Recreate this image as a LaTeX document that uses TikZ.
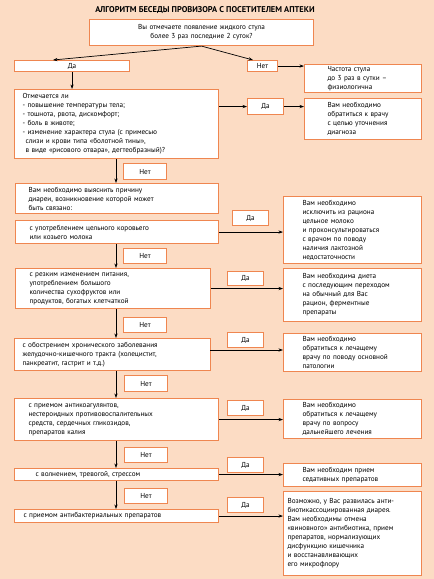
\documentclass[tikz,border=0pt]{standalone}
\usepackage{fontspec}
\setmainfont{PT Sans}
\usetikzlibrary{arrows.meta,calc}
\definecolor{bgc}{HTML}{FCDCC4}
\definecolor{boxc}{HTML}{EF8650}
\newcommand\bodyfnt{\fontsize{7.2}{9}\selectfont}
\newcommand\titlefnt{\fontsize{8.4}{10}\selectfont\bfseries}
\tikzset{
  box/.style={draw=boxc, fill=white, line width=1.1pt, anchor=north west,
    inner xsep=0pt, inner ysep=0pt, font=\bodyfnt},
  bx/.style n args={3}{box, align=left, minimum width=#1pt, minimum height=#2pt,
    text width=#1pt, execute at begin node={\leftskip=#3pt\relax}},
  lbl/.style n args={2}{box, align=center, minimum width=#1pt, minimum height=#2pt},
  arr/.style={-{Stealth[length=4.5pt,width=3.2pt]}, line width=0.7pt, black},
}
\begin{document}
\begin{tikzpicture}[x=1pt,y=-1pt]
\fill[bgc] (0,0) rectangle (434,579);
\useasboundingbox (0,0) rectangle (434,579);
\node[font=\titlefnt] (title) at (205,10) {АЛГОРИТМ БЕСЕДЫ ПРОВИЗОРА С ПОСЕТИТЕЛЕМ АПТЕКИ};
\node[box, align=center, minimum width=224pt, minimum height=26pt, text width=224pt] (q1) at (89,19)
  {Вы отмечаете появление жидкого стула\\более 3 раз последние 2 суток?};
\node[lbl={115}{11}] (da1) at (14,60) {Да};
\node[lbl={30}{11}] (net1) at (247,60) {Нет};
\node[bx={117}{28}{23}] (res1) at (304,64) {Частота стула\\до 3 раз в сутки –\\физиологична};
\node[bx={204}{69}{8}] (b2) at (14,89) {Отмечается ли\\- повышение температуры тела;\\- тошнота, рвота, дискомфорт;\\- боль в животе;\\- изменение характера стула (с примесью\\\hspace*{3pt}слизи и крови типа «болотной тины»,\\\hspace*{3pt}в виде «рисового отвара», дегтеобразный)?};
\node[lbl={36}{16}] (da2) at (247,98) {Да};
\node[bx={117}{41}{23}] (res2) at (304,98) {Вам необходимо\\обратиться к врачу\\с целью уточнения\\диагноза};
\node[lbl={43}{16}] (net2) at (123,163) {Нет};
\node[bx={203}{30}{13}] (b3) at (15,183) {Вам необходимо выяснить причину\\диареи, возникновение которой может\\быть связано:};
\node[bx={203}{23}{14}] (b4) at (15,220) {с употреблением цельного коровьего\\или козьего молока};
\node[lbl={36}{15}] (da3) at (232,210) {Да};
\node[bx={138}{67}{19}] (res3) at (283,196) {Вам необходимо\\исключить из рациона\\цельное молоко\\и проконсультироваться\\с врачом по поводу\\наличия лактозной\\недостаточности};
\node[lbl={43}{15}] (net3) at (123,248) {Нет};
\node[bx={195}{40}{14}] (b5) at (15,268) {с резким изменением питания,\\употреблением большого\\количества сухофруктов или\\продуктов, богатых клетчаткой};
\node[lbl={36}{14}] (da4) at (227,271) {Да};
\node[bx={138}{53}{19}] (res4) at (283,268) {Вам необходима диета\\с последующим переходом\\на обычный для Вас\\рацион, ферментные\\препараты};
\node[lbl={43}{15}] (net4) at (123,317) {Нет};
\node[bx={196}{32}{8}] (b6) at (14,338) {с обострением хронического заболевания\\желудочно-кишечного тракта (холецистит,\\панкреатит, гастрит и т.д.)};
\node[lbl={36}{15}] (da5) at (227,332) {Да};
\node[bx={138}{38}{19}] (res5) at (283,333) {Вам необходимо\\обратиться к лечащему\\врачу по поводу основной\\патологии};
\node[lbl={43}{16}] (net5) at (124,375) {Нет};
\node[bx={204}{42}{14}] (b7) at (14,398) {с приемом антикоагулянтов,\\нестероидных противовоспалительных\\средств, сердечных гликозидов,\\препаратов калия};
\node[lbl={36}{15}] (da6) at (227,400) {Да};
\node[bx={138}{39}{19}] (res6) at (283,399) {Вам необходимо\\обратиться к лечащему\\врачу по вопросу\\дальнейшего лечения};
\node[lbl={43}{15}] (net6) at (124,447) {Нет};
\node[bx={204}{12}{21}] (b8) at (14,468) {с волнением, тревогой, стрессом};
\node[lbl={36}{15}] (da7) at (227,457) {Да};
\node[bx={138}{23}{19}] (res7) at (283,463) {Вам необходим прием\\седативных препаратов};
\node[lbl={43}{15}] (net7) at (124,488) {Нет};
\node[bx={204}{13}{9}] (b9) at (14,509) {с приемом антибактериальных препаратов};
\node[lbl={36}{15}] (da8) at (227,497) {Да};
\node[bx={138}{84}{4}] (res8) at (283,491) {Возможно, у Вас развилась анти-\\биотикассоциированная диарея.\\Вам необходимы отмена\\«виновного» антибиотика, прием\\препаратов, нормализующих\\дисфункцию кишечника\\и восстанавливающих\\его микрофлору};
% connectors
\coordinate (t1) at (53,60);
\coordinate (t2) at (253,60);
\coordinate (vx) at (116,0);
\coordinate (b6e) at (210,350);
\draw[arr] (q1.south) -- (t1);
\draw[arr] (q1.south) -- (t2);
\draw[arr] (net1.east) -- (net1.east -| res1.west);
\draw[arr] (da1.south) -- (da1.south |- b2.north);
\draw[arr] (b2.east |- da2.west) -- (da2.west);
\draw[arr] (da2.east) -- (da2.east -| res2.west);
\draw[arr] (b2.south -| vx) -- (b3.north -| vx);
\draw[arr] (b4.south -| vx) -- (b5.north -| vx);
\draw[arr] (b5.south -| vx) -- (b6.north -| vx);
\draw[arr] (b6.south -| vx) -- (b7.north -| vx);
\draw[arr] (b7.south -| vx) -- (b8.north -| vx);
\draw[arr] (b8.south -| vx) -- (b9.north -| vx);
\draw[arr] (b4.east) -- (b4.east -| res3.west);
\draw[arr] (b5.east) -- (b5.east -| res4.west);
\draw[arr] (b6e) -- (b6e -| res5.west);
\draw[arr] (b7.east) -- (b7.east -| res6.west);
\draw[arr] (b8.east) -- (b8.east -| res7.west);
\draw[arr] (b9.east) -- (b9.east -| res8.west);
\end{tikzpicture}
\end{document}
